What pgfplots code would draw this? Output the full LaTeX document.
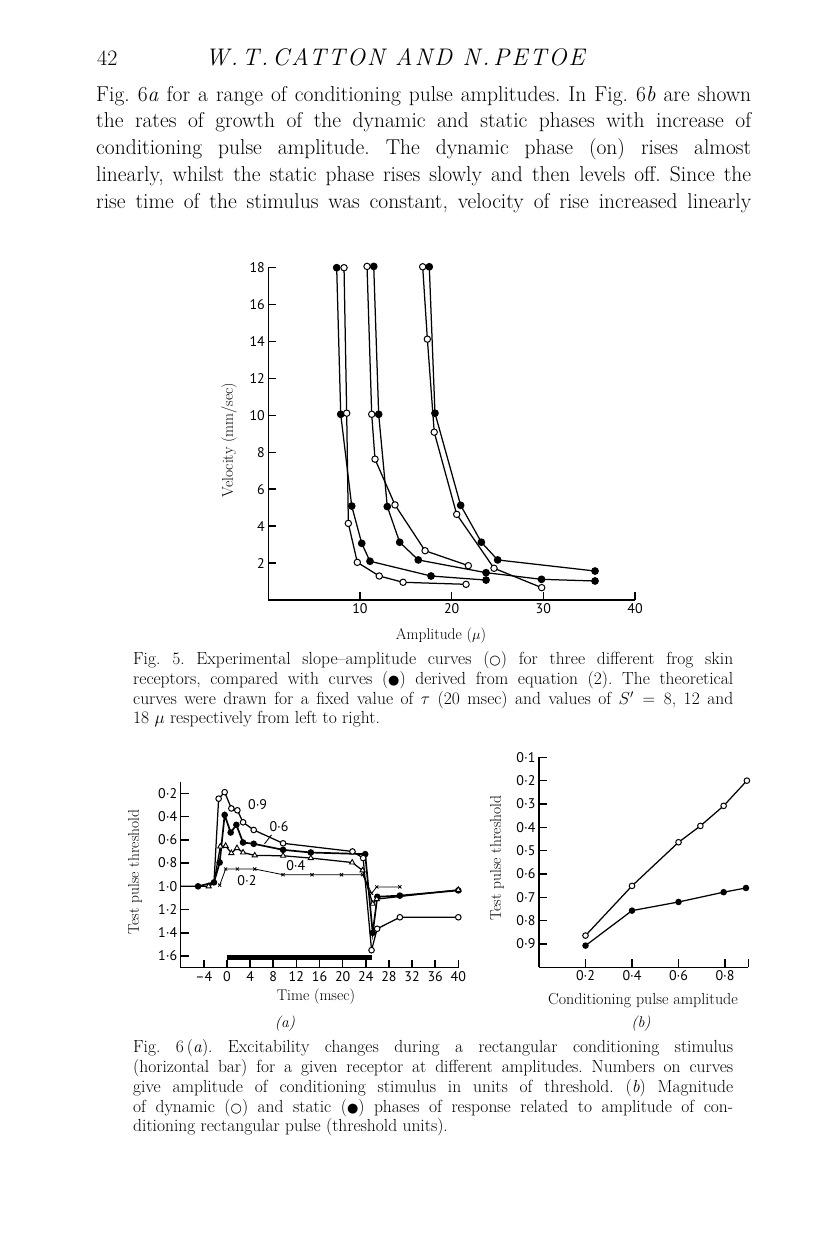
\documentclass[border=0pt]{standalone}
\usepackage{fontspec}
\usepackage{graphicx}
\usepackage{pgfplots}
\pgfplotsset{compat=1.18}
\newfontfamily\tickfont{PT Sans}
\newfontfamily\symfont{DejaVu Sans}
\newfontfamily\headfont{Latin Modern Roman}[LetterSpace=9]
\newcommand{\opn}{{\symfont\fontsize{13}{13}\selectfont ○}}
\newcommand{\cls}{{\symfont\fontsize{13}{13}\selectfont ●}}
\newcommand{\bodyline}[2]{\node[anchor=mid west,inner sep=0pt] at (96pt,-#1pt) {\makebox[655pt][s]{#2}};}
\newcommand{\capline}[2]{\node[anchor=mid west,inner sep=0pt] at (133pt,-#1pt) {\makebox[600pt][s]{#2}};}
\frenchspacing

\pgfplotsset{
  scan/.style={
    scale only axis,
    axis x line=bottom,
    axis y line=left,
    axis line style={-,line width=1.5pt},
    tick align=inside,
    major tick length=8pt,
    tick style={line width=1.5pt,black},
    tick label style={font=\fontsize{14}{14}\selectfont\tickfont},
    clip=false,
    every axis plot/.append style={line width=1.25pt,black},
  },
  open/.style={mark=*,mark size=#1,mark options={fill=white,draw=black,line width=1pt}},
  full/.style={mark=*,mark size=#1,mark options={fill=black,draw=black}},
}

\begin{document}
\begin{tikzpicture}
\fill[white] (0,0) rectangle (816pt,-1249pt);
\useasboundingbox (0,0) rectangle (816pt,-1249pt);

% running head and text
\node[anchor=mid west,inner sep=0pt,font=\fontsize{22}{22}\selectfont] at (97pt,-63pt) {42};
\node[anchor=mid,inner sep=0pt,font=\fontsize{24}{24}\headfont\itshape] at (395pt,-63pt) {W.\,T.\,CATTON AND N.\,PETOE};
\begingroup
\fontsize{21.5}{26}\selectfont
\bodyline{97}{Fig. 6\textit{a} for a range of conditioning pulse amplitudes. In Fig. 6\textit{b} are shown}
\bodyline{123}{the rates of growth of the dynamic and static phases with increase of}
\bodyline{150}{conditioning pulse amplitude. The dynamic phase (on) rises almost}
\bodyline{177}{linearly, whilst the static phase rises slowly and then levels off. Since the}
\bodyline{204}{rise time of the stimulus was constant, velocity of rise increased linearly}
\endgroup

% ---------- Fig. 5 ----------
\begin{axis}[scan,
  at={(268.3pt,-600pt)}, anchor=south west,
  width=366.7pt, height=332.3pt,
  xmin=0, xmax=40, ymin=0, ymax=18,
  xtick={10,20,30,40}, xticklabels={10,20,30,40},
  ytick={2,4,6,8,10,12,14,16,18}, yticklabels={2,4,6,8,10,12,14,16,18},
]
\addplot[full=3.2pt] coordinates {(7.46,18.0) (7.9,10.06) (9.1,5.09) (10.19,3.07) (11.09,2.1) (17.75,1.3) (23.75,1.08)};
\addplot[open=3.2pt] coordinates {(8.26,18.0) (8.55,10.12) (8.73,4.15) (9.71,2.04) (12.1,1.3) (14.7,0.96) (21.57,0.85)};
\addplot[full=3.2pt] coordinates {(11.5,18.07) (12.04,10.06) (12.98,5.06) (14.33,3.13) (16.36,2.17) (23.75,1.48) (29.8,1.12) (35.64,1.03)};
\addplot[open=3.2pt] coordinates {(10.77,18.07) (11.28,10.06) (11.64,7.63) (13.82,5.15) (17.1,2.67) (21.82,1.86)};
\addplot[full=3.2pt] coordinates {(17.56,18.05) (18.18,10.12) (20.98,5.13) (23.24,3.13) (25.02,2.17) (35.64,1.57)};
\addplot[open=3.2pt] coordinates {(16.84,18.05) (17.35,14.13) (18.1,9.09) (20.55,4.64) (24.62,1.72) (29.82,0.67)};
\end{axis}
\node[rotate=90,inner sep=0pt,font=\fontsize{15.5}{15.5}\selectfont] at (229pt,-440pt) {Velocity (mm/sec)};
\node[inner sep=0pt,font=\fontsize{15.5}{15.5}\selectfont] at (441pt,-636pt) {Amplitude ($\mu$)};

\begingroup
\fontsize{17.5}{20}\selectfont
\capline{661}{Fig. 5. Experimental slope--amplitude curves (\opn) for three different frog skin}
\capline{681}{receptors, compared with curves (\cls) derived from equation (2). The theoretical}
\capline{701}{curves were drawn for a fixed value of $\tau$ (20 msec) and values of $S' = 8$, 12 and}
\node[anchor=mid west,inner sep=0pt] at (133pt,-720pt) {18 $\mu$ respectively from left to right.};
\endgroup

% ---------- Fig. 6a ----------
\begin{axis}[scan, y dir=reverse,
  at={(180.7pt,-967.7pt)}, anchor=south west,
  width=277.6pt, height=186pt,
  xmin=-8, xmax=40, ymin=0.1, ymax=1.7,
  xtick={-4,0,4,8,12,16,20,24,28,32,36,40},
  xticklabels={–4,0,4,8,12,16,20,24,28,32,36,40},
  ytick={0.2,0.4,0.6,0.8,1.0,1.2,1.4,1.6},
  yticklabels={0·2,0·4,0·6,0·8,1·0,1·2,1·4,1·6},
]
% conditioning stimulus bar
\addplot[no marks,line width=4.5pt,line cap=butt] coordinates {(0,1.61) (25,1.61)};
% common baseline
\addplot[no marks] coordinates {(-8,1.0) (-5,1.0) (-3.17,1.0) (-2.25,0.97)};
% 0.6
\addplot[full=2.4pt,line width=1.7pt] coordinates {(-5,1.0) (-2.25,0.966) (-1.26,0.795) (-0.4,0.386) (0.64,0.537) (1.63,0.471) (2.78,0.623) (4.62,0.634) (9.7,0.686) (14.5,0.709) (23.9,0.723) (25.2,1.40) (26.0,1.09) (29.9,1.08) (40,1.035)};
% 0.4
\addplot[mark=triangle*,mark size=3pt,mark options={fill=white,draw=black,line width=0.9pt},mark indices={1,3,4,5,6,7,8,9,10,11,12,13,14,15}] coordinates {(-3.17,1.0) (-2.25,0.97) (-1.15,0.657) (-0.23,0.652) (0.76,0.714) (1.73,0.671) (2.78,0.709) (4.8,0.734) (9.7,0.737) (14.5,0.757) (21.65,0.795) (23.45,0.863) (25.2,1.15) (25.9,1.11) (40,1.03)};
% 0.2
\addplot[mark=x,mark size=2.2pt,mark options={line width=0.8pt},line width=0.8pt] coordinates {(-1.26,0.99) (-0.23,0.851) (1.8,0.851) (4.8,0.851) (9.7,0.9) (14.7,0.9) (19.8,0.9) (23.45,0.9) (25.0,1.06) (25.9,1.005) (29.9,1.005)};
% 0.9
\addplot[open=2.8pt,mark indices={2,3,4,5,6,7,8,9,10,11,12,13,14}] coordinates {(-2.25,0.97) (-1.44,0.246) (-0.4,0.19) (0.76,0.33) (1.8,0.346) (2.78,0.449) (4.62,0.515) (9.7,0.63) (21.7,0.70) (23.55,0.757) (25.0,1.549) (25.97,1.365) (29.9,1.266) (40,1.266)};
\node[font=\fontsize{14}{14}\selectfont\tickfont] at (axis cs:5.3,0.30) {0·9};
\node[font=\fontsize{14}{14}\selectfont\tickfont] at (axis cs:9.0,0.486) {0·6};
\draw[line width=0.9pt] (axis cs:7.7,0.557) -- (axis cs:6.5,0.634);
\node[font=\fontsize{14}{14}\selectfont\tickfont] at (axis cs:11.9,0.823) {0·4};
\node[font=\fontsize{14}{14}\selectfont\tickfont] at (axis cs:3.46,0.952) {0·2};
\end{axis}
\node[rotate=90,inner sep=0pt,font=\fontsize{15.5}{15.5}\selectfont] at (135pt,-872pt) {Test pulse threshold};
\node[inner sep=0pt,font=\fontsize{15.5}{15.5}\selectfont] at (316pt,-997pt) {Time (msec)};
\node[inner sep=0pt,font=\fontsize{15.5}{15.5}\selectfont\itshape] at (285pt,-1024pt) {(a)};

% ---------- Fig. 6b ----------
\begin{axis}[scan, y dir=reverse,
  at={(539pt,-967.3pt)}, anchor=south west,
  width=209.3pt, height=210pt,
  xmin=0, xmax=0.9, ymin=0.1, ymax=1.0,
  xtick={0.2,0.4,0.6,0.8,0.9},
  xticklabels={0·2,0·4,0·6,0·8,{}},
  ytick={0.1,0.2,0.3,0.4,0.5,0.6,0.7,0.8,0.9},
  yticklabels={0·1,0·2,0·3,0·4,0·5,0·6,0·7,0·8,0·9},
]
\addplot[full=2.6pt] coordinates {(0.2,0.907) (0.4,0.757) (0.6,0.72) (0.794,0.678) (0.89,0.66)};
\addplot[open=2.8pt] coordinates {(0.2,0.864) (0.4,0.651) (0.6,0.464) (0.694,0.394) (0.794,0.308) (0.894,0.2)};
\end{axis}
\node[rotate=90,inner sep=0pt,font=\fontsize{15.5}{15.5}\selectfont] at (497pt,-858pt) {Test pulse threshold};
\node[inner sep=0pt,font=\fontsize{16}{16}\selectfont] at (643pt,-1001pt) {Conditioning pulse amplitude};
\node[inner sep=0pt,font=\fontsize{15.5}{15.5}\selectfont\itshape] at (641pt,-1024pt) {(b)};

\begingroup
\fontsize{17.5}{20}\selectfont
\capline{1049}{Fig. 6\,(\textit{a}). Excitability changes during a rectangular conditioning stimulus}
\capline{1069}{(horizontal bar) for a given receptor at different amplitudes. Numbers on curves}
\capline{1089}{give amplitude of conditioning stimulus in units of threshold. (\textit{b}) Magnitude}
\capline{1109}{of dynamic (\opn) and static (\cls) phases of response related to amplitude of con-}
\node[anchor=mid west,inner sep=0pt] at (133pt,-1128pt) {ditioning rectangular pulse (threshold units).};
\endgroup
\end{tikzpicture}
\end{document}
